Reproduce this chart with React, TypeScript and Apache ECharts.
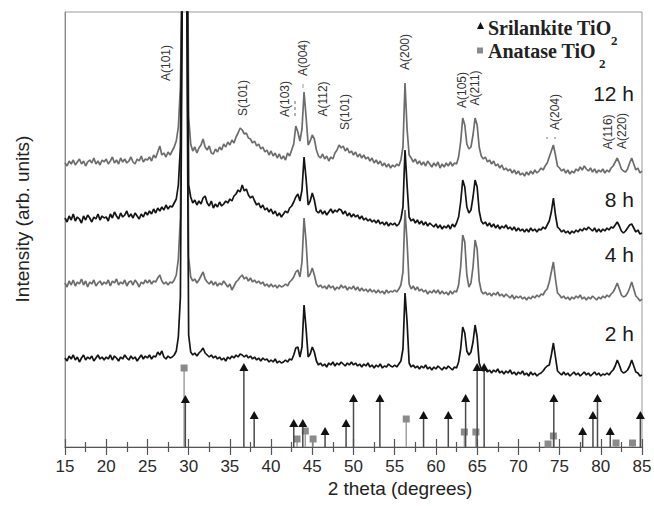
import React, { useEffect, useRef } from 'react';
import * as echarts from 'echarts';

// XRD scan: 2θ from 15° to 85° in 0.25° steps
const SCAN_START = 15;
const SCAN_STEP = 0.25;

// Intensities (arb. units, stacked offsets included)
const int12h = [
  284, 281, 286, 283, 287, 282, 285, 288, 283, 286, 281, 285, 287, 284, 289, 283, 286, 282, 287, 285,
  288, 283, 286, 290, 284, 287, 283, 289, 285, 288, 284, 286, 290, 285, 283, 288, 286, 291, 285, 288,
  287, 290, 286, 292, 289, 295, 301, 292, 294, 290, 295, 292, 296, 300, 306, 320, 360, 500, 2500, 700,
  330, 303, 296, 300, 294, 299, 302, 308, 300, 297, 301, 294, 293, 298, 295, 300, 297, 303, 300, 305,
  302, 307, 304, 310, 314, 319, 317, 313, 314, 309, 308, 304, 306, 301, 303, 298, 300, 295, 297, 292,
  296, 291, 294, 289, 293, 288, 291, 287, 294, 291, 297, 303, 321, 315, 306, 318, 355, 330, 302, 306,
  312, 308, 297, 291, 289, 293, 288, 291, 286, 290, 288, 294, 297, 302, 299, 301, 296, 299, 294, 296,
  292, 295, 290, 293, 289, 292, 288, 290, 286, 289, 284, 287, 283, 286, 281, 284, 280, 283, 279, 282,
  280, 283, 281, 287, 300, 364, 318, 292, 289, 285, 288, 283, 286, 282, 285, 281, 286, 283, 280, 284,
  281, 285, 279, 283, 280, 284, 281, 285, 281, 284, 283, 290, 305, 329, 322, 303, 298, 300, 312, 329,
  322, 300, 291, 288, 290, 285, 287, 283, 286, 281, 283, 279, 282, 277, 279, 276, 278, 274, 277, 273,
  276, 272, 274, 271, 275, 272, 276, 273, 277, 274, 276, 279, 277, 281, 284, 290, 296, 302, 292, 281,
  279, 276, 278, 274, 277, 273, 276, 274, 278, 276, 280, 277, 281, 278, 276, 279, 275, 278, 274, 277,
  275, 278, 274, 277, 275, 279, 281, 285, 289, 284, 278, 276, 275, 278, 284, 289, 283, 277, 279, 274,
  276,
];

const int8h = [
  229, 225, 231, 227, 233, 226, 230, 228, 224, 231, 227, 232, 229, 225, 230, 228, 233, 227, 231, 229,
  230, 226, 233, 229, 235, 231, 228, 234, 230, 232, 236, 230, 233, 229, 234, 231, 228, 233, 230, 235,
  232, 236, 233, 238, 234, 239, 236, 240, 237, 242, 238, 241, 240, 244, 248, 262, 300, 520, 2500, 600,
  262, 250, 244, 247, 242, 246, 243, 249, 251, 244, 241, 246, 239, 243, 240, 245, 241, 243, 246, 244,
  248, 246, 251, 253, 257, 255, 262, 256, 258, 252, 249, 251, 246, 242, 244, 239, 242, 237, 239, 235,
  238, 233, 236, 231, 234, 230, 233, 236, 234, 239, 241, 245, 250, 253, 246, 257, 290, 268, 242, 246,
  254, 247, 236, 234, 237, 233, 236, 232, 235, 238, 234, 237, 235, 238, 237, 233, 236, 231, 234, 230,
  233, 230, 232, 228, 231, 227, 229, 226, 228, 225, 227, 224, 227, 223, 225, 222, 225, 221, 224, 222,
  224, 221, 223, 228, 240, 297, 262, 230, 226, 228, 224, 227, 223, 226, 222, 225, 221, 224, 222, 220,
  223, 219, 222, 218, 221, 219, 222, 218, 223, 220, 224, 230, 245, 267, 260, 240, 234, 237, 250, 267,
  260, 236, 226, 223, 225, 221, 224, 220, 223, 219, 222, 218, 221, 219, 222, 218, 220, 217, 220, 216,
  219, 216, 218, 215, 218, 215, 219, 216, 218, 215, 218, 217, 220, 218, 222, 226, 235, 249, 232, 220,
  218, 215, 217, 214, 216, 213, 216, 214, 217, 215, 218, 216, 219, 217, 220, 218, 216, 219, 215, 218,
  215, 218, 216, 219, 217, 220, 219, 222, 225, 221, 216, 214, 216, 219, 222, 223, 219, 215, 217, 213,
  214,
];

const int4h = [
  164, 160, 166, 162, 167, 161, 165, 163, 168, 162, 166, 160, 165, 163, 167, 161, 164, 166, 162, 165,
  163, 167, 161, 166, 164, 168, 162, 165, 163, 167, 161, 165, 166, 162, 167, 164, 160, 165, 163, 167,
  164, 167, 163, 166, 165, 169, 172, 166, 163, 165, 162, 165, 164, 167, 172, 188, 230, 520, 2500, 520,
  190, 170, 166, 168, 164, 167, 171, 175, 168, 165, 163, 166, 162, 165, 161, 164, 162, 166, 163, 160,
  163, 157, 161, 165, 167, 170, 172, 168, 170, 166, 169, 165, 167, 164, 166, 163, 165, 161, 163, 160,
  163, 160, 162, 159, 162, 160, 161, 163, 161, 165, 167, 170, 175, 177, 170, 185, 229, 205, 170, 173,
  179, 172, 163, 160, 162, 159, 161, 158, 162, 159, 161, 157, 160, 158, 162, 159, 161, 157, 160, 158,
  161, 157, 160, 156, 159, 156, 158, 155, 158, 155, 157, 154, 157, 154, 156, 153, 157, 154, 156, 155,
  157, 155, 158, 162, 175, 237, 205, 163, 158, 161, 157, 160, 156, 158, 155, 157, 153, 156, 154, 157,
  154, 157, 153, 156, 153, 155, 152, 156, 153, 156, 155, 162, 180, 212, 205, 172, 160, 164, 180, 207,
  198, 166, 156, 153, 155, 152, 154, 151, 154, 152, 155, 151, 153, 150, 153, 151, 149, 152, 148, 151,
  149, 151, 148, 150, 147, 150, 148, 151, 149, 152, 150, 153, 152, 156, 158, 165, 175, 185, 168, 154,
  152, 149, 151, 148, 150, 147, 150, 148, 151, 149, 152, 148, 150, 147, 150, 148, 151, 149, 147, 150,
  148, 151, 149, 152, 150, 153, 155, 159, 164, 158, 152, 150, 151, 154, 159, 165, 158, 151, 149, 146,
  148,
];

const int2h = [
  89, 86, 91, 88, 92, 87, 90, 85, 89, 92, 87, 90, 88, 91, 86, 89, 92, 88, 90, 87,
  90, 88, 92, 87, 91, 89, 86, 90, 88, 92, 89, 87, 91, 88, 90, 86, 89, 92, 88, 91,
  89, 92, 88, 91, 90, 95, 92, 96, 90, 88, 91, 89, 90, 92, 96, 110, 150, 480, 2500, 480,
  112, 95, 92, 94, 91, 94, 96, 99, 94, 92, 90, 92, 89, 91, 88, 90, 87, 89, 86, 90,
  88, 91, 89, 92, 90, 93, 92, 90, 92, 89, 91, 88, 90, 87, 89, 86, 89, 87, 88, 85,
  87, 85, 88, 84, 86, 84, 85, 87, 85, 88, 87, 92, 99, 100, 90, 100, 142, 118, 90, 93,
  100, 95, 86, 82, 84, 81, 83, 80, 84, 82, 85, 81, 84, 82, 85, 83, 81, 84, 82, 85,
  82, 84, 81, 83, 80, 83, 81, 84, 80, 82, 79, 82, 80, 83, 79, 81, 80, 83, 81, 80,
  82, 80, 83, 86, 98, 154, 125, 84, 80, 82, 79, 81, 78, 81, 79, 82, 78, 80, 77, 80,
  78, 81, 79, 77, 80, 78, 81, 79, 77, 80, 79, 85, 98, 120, 114, 96, 92, 95, 105, 122,
  110, 84, 78, 76, 78, 75, 77, 74, 77, 75, 78, 74, 76, 73, 76, 74, 77, 73, 75, 72,
  75, 73, 76, 72, 74, 71, 75, 72, 74, 71, 73, 74, 76, 79, 81, 82, 92, 104, 90, 76,
  74, 72, 75, 72, 74, 71, 73, 75, 72, 74, 71, 73, 75, 72, 74, 71, 73, 75, 72, 74,
  71, 73, 72, 74, 72, 75, 77, 81, 87, 82, 76, 74, 75, 77, 81, 87, 81, 75, 74, 71,
  72,
];

// Reference patterns (stick positions in 2θ and relative heights)
const anataseTheta = [29.45, 43.15, 44.15, 45.1, 56.4, 63.45, 64.85, 73.6, 74.25, 81.85, 83.85];
const anataseInt = [79, 8, 16, 8, 28, 15, 15, 3, 11, 4, 4];
const srilankiteTheta = [29.6, 36.7, 37.95, 42.75, 43.85, 46.55, 49.1, 50.0, 53.2, 58.5, 61.5, 63.6, 65.0, 65.85, 74.3, 77.8, 79.05, 79.6, 81.15, 84.8];
const srilankiteInt = [47, 79, 31, 23, 23, 15, 23, 48, 48, 31, 31, 48, 79, 79, 48, 15, 31, 48, 15, 31];

const sampleLabels = ['12 h', '8 h', '4 h', '2 h'];
const peakLabels = ['A(101)', 'S(101)', 'A(103)', 'A(004)', 'A(112)', 'S(101)', 'A(200)', 'A(105)', 'A(211)', 'A(204)', 'A(116)', 'A(220)'];

const X_MIN = 15;
const X_MAX = 85;
const X_INTERVAL = 5;

const toXY = (arr: number[]) => arr.map((v, i) => [SCAN_START + i * SCAN_STEP, v]);
const toSticks = (xs: number[], ys: number[]) => xs.map((x, i) => [x, ys[i]]);

export default function App() {
  const ref = useRef<HTMLDivElement>(null);

  useEffect(() => {
    if (!ref.current) return;
    const chart = echarts.init(ref.current, null, { renderer: 'svg' });

    const GRAY = '#6c6c6c';
    const BLACK = '#141414';
    const sans = '"Liberation Sans", Arial, sans-serif';
    const serif = '"Liberation Serif", "Times New Roman", serif';

    // positions of annotation texts (pixels)
    const peakPos = [
      [166, 63], [243, 98], [285, 99], [303, 58], [323, 99], [345, 112],
      [405, 52], [462, 90], [475, 88], [555, 112], [608, 132], [622, 131],
    ];
    const samplePos = [93, 199, 254, 333];

    const graphics: any[] = [];
    peakLabels.forEach((t, i) => {
      graphics.push({
        type: 'text', x: peakPos[i][0], y: peakPos[i][1], rotation: Math.PI / 2,
        style: { text: t, font: `12px ${sans}`, fill: '#333', align: 'center', verticalAlign: 'middle' },
      });
    });
    sampleLabels.forEach((t, i) => {
      graphics.push({
        type: 'text', x: 634, y: samplePos[i],
        style: { text: t, font: `21px ${sans}`, fill: '#1a1a1a', align: 'right', verticalAlign: 'middle' },
      });
    });
    // axis titles
    graphics.push({
      type: 'text', x: 22, y: 219, rotation: Math.PI / 2,
      style: { text: 'Intensity (arb. units)', font: `19px ${sans}`, fill: '#222', align: 'center', verticalAlign: 'middle' },
    });
    graphics.push({
      type: 'text', x: 400, y: 488,
      style: { text: '2 theta (degrees)', font: `19px ${sans}`, fill: '#222', align: 'center', verticalAlign: 'middle' },
    });
    // legend
    graphics.push({ type: 'polygon', shape: { points: [[480.5, 22], [477, 29], [484, 29]] }, style: { fill: '#111' } });
    graphics.push({ type: 'text', x: 488, y: 28, style: { text: 'Srilankite TiO', font: `bold 20px ${serif}`, fill: '#222', align: 'left', verticalAlign: 'middle' } });
    graphics.push({ type: 'text', x: 611, y: 40, style: { text: '2', font: `bold 13px ${serif}`, fill: '#222', align: 'left', verticalAlign: 'middle' } });
    graphics.push({ type: 'rect', shape: { x: 477, y: 47.5, width: 6, height: 6 }, style: { fill: '#8a8a8a' } });
    graphics.push({ type: 'text', x: 488, y: 51, style: { text: 'Anatase TiO', font: `bold 20px ${serif}`, fill: '#222', align: 'left', verticalAlign: 'middle' } });
    graphics.push({ type: 'text', x: 599, y: 63, style: { text: '2', font: `bold 13px ${serif}`, fill: '#222', align: 'left', verticalAlign: 'middle' } });
    // small marks under labels
    graphics.push({ type: 'line', shape: { x1: 295, y1: 101, x2: 295, y2: 118 }, style: { stroke: '#999', lineWidth: 1.5, lineDash: [3, 3] } });
    graphics.push({ type: 'line', shape: { x1: 303, y1: 84, x2: 303, y2: 88 }, style: { stroke: '#bbb', lineWidth: 1.5 } });
    graphics.push({ type: 'circle', shape: { cx: 547, cy: 138, r: 0.9 }, style: { fill: '#999' } });
    graphics.push({ type: 'circle', shape: { cx: 555, cy: 138, r: 0.9 }, style: { fill: '#999' } });

    const stickSeries = (data: number[][], kind: 'tri' | 'sq') => ({
      type: 'custom',
      xAxisIndex: 0,
      yAxisIndex: 0,
      data,
      silent: true,
      renderItem: (_p: any, api: any) => {
        const x = api.value(0);
        const h = api.value(1);
        const p0 = api.coord([x, 0]);
        const p1 = api.coord([x, h]);
        const marker = kind === 'tri'
          ? { type: 'polygon', shape: { points: [[p1[0], p1[1] - 5], [p1[0] - 4.5, p1[1] + 3], [p1[0] + 4.5, p1[1] + 3]] }, style: { fill: '#111' } }
          : { type: 'rect', shape: { x: p1[0] - 3.5, y: p1[1] - 3.5, width: 7, height: 7 }, style: { fill: '#8a8a8a' } };
        return {
          type: 'group',
          children: [
            { type: 'line', shape: { x1: p0[0], y1: p0[1], x2: p1[0], y2: p1[1] }, style: { stroke: kind === 'tri' ? '#4a4a4a' : '#a0a0a0', lineWidth: 1.5 } },
            marker,
          ],
        };
      },
    });

    const lineSeries = (name: string, data: number[], color: string) => ({
      name,
      type: 'line',
      data: toXY(data),
      showSymbol: false,
      symbol: 'none',
      clip: true,
      lineStyle: { color, width: 1.7 },
      silent: true,
    });

    chart.setOption({
      animation: false,
      backgroundColor: '#fff',
      grid: {
        left: 65, right: 12, top: 12, bottom: 59,
        show: true, borderColor: '#9a9a9a', borderWidth: 1, backgroundColor: 'transparent',
        containLabel: false, outerBoundsMode: 'none',
      },
      xAxis: [
        {
          type: 'value', min: X_MIN, max: X_MAX, interval: X_INTERVAL,
          axisLine: { show: true, lineStyle: { color: '#555', width: 1.2 } },
          axisTick: { show: true, inside: false, length: 8, lineStyle: { color: '#555', width: 1.2 } },
          minorTick: { show: true, splitNumber: 2, length: 5, lineStyle: { color: '#555', width: 1.2 } },
          axisLabel: { show: true, margin: 11, fontSize: 17, fontFamily: sans, color: '#2a2a2a' },
          splitLine: { show: false },
        },
        {
          type: 'value', min: X_MIN, max: X_MAX, interval: X_INTERVAL, position: 'bottom',
          axisLine: { show: false },
          axisTick: { show: true, inside: true, length: 8, lineStyle: { color: '#555', width: 1.2 } },
          minorTick: { show: true, splitNumber: 2, length: 5, lineStyle: { color: '#555', width: 1.2 } },
          axisLabel: { show: false },
          splitLine: { show: false },
        },
      ],
      yAxis: {
        type: 'value', min: 0, max: 435,
        axisLine: { show: true, lineStyle: { color: '#8a8a8a', width: 1 } },
        axisTick: { show: false },
        axisLabel: { show: false },
        splitLine: { show: false },
      },
      series: [
        stickSeries(toSticks(anataseTheta, anataseInt), 'sq'),
        stickSeries(toSticks(srilankiteTheta, srilankiteInt), 'tri'),
        lineSeries('12 h', int12h, GRAY),
        lineSeries('4 h', int4h, GRAY),
        lineSeries('8 h', int8h, BLACK),
        lineSeries('2 h', int2h, BLACK),
      ],
      graphic: graphics,
    });

    return () => chart.dispose();
  }, []);

  return (
    <div
      ref={ref}
      style={{ position: 'fixed', left: 0, top: 0, width: 654, height: 506, background: '#fff' }}
    />
  );
}
